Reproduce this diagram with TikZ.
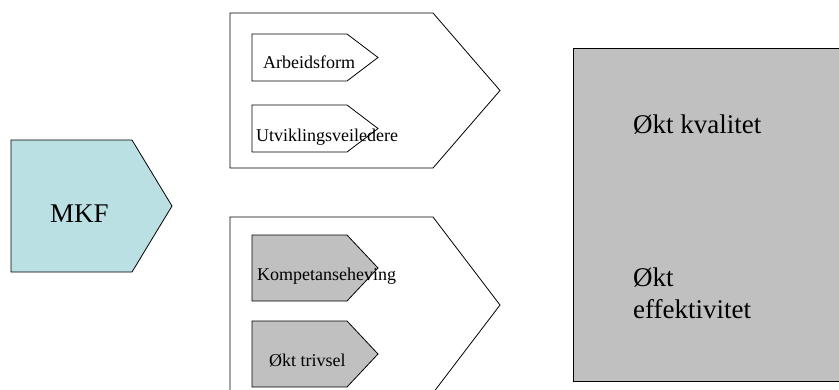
\documentclass[tikz,border=0pt]{standalone}
\usepackage{fontspec}
\setmainfont{Liberation Serif}
\usetikzlibrary{positioning}
\definecolor{mkfblue}{HTML}{BBE0E3}
\definecolor{boxgray}{HTML}{C0C0C0}
\tikzset{
    chev/.style={draw=black, line width=0.8pt, line join=miter},
    bigtxt/.style={inner sep=0pt, anchor=base west, font=\fontsize{27}{32}\selectfont},
    smalltxt/.style={inner sep=0pt, anchor=base west, font=\fontsize{18}{21}\selectfont}
}

\begin{document}
\begin{tikzpicture}[x=1pt, y=-1pt]
    \useasboundingbox (0,0) rectangle (839,389);
    % result box
    \draw[chev, fill=boxgray] (573,48) rectangle (842,381);
    % MKF
    \draw[chev, fill=mkfblue] (11,140) -- (132,140) -- (172,206) -- (132,272) -- (11,272) -- cycle;
    % the two large chevrons
    \draw[chev, fill=white] (230,13) -- (433,13) -- (500,90.5) -- (433,168) -- (230,168) -- cycle;
    \draw[chev, fill=white] (230,217) -- (433,217) -- (500,305) -- (433,393) -- (230,393) -- cycle;
    % small chevrons
    \draw[chev, fill=white] (252,34) -- (347,34) -- (378,57.5) -- (347,81) -- (252,81) -- cycle;
    \draw[chev, fill=white] (252,105) -- (347,105) -- (378,128.5) -- (347,152) -- (252,152) -- cycle;
    \draw[chev, fill=boxgray] (252,235) -- (347,235) -- (378,268) -- (347,301) -- (252,301) -- cycle;
    \draw[chev, fill=boxgray] (252,321) -- (347,321) -- (378,354) -- (347,387) -- (252,387) -- cycle;
    % texts
    \node[bigtxt] (mkf) at (50,222) {MKF};
    \node[smalltxt] (arb) at (263,68) {Arbeidsform};
    \node[smalltxt] (utv) at (256,141) {Utviklingsveiledere};
    \node[smalltxt] (komp) at (257,280) {Kompetanseheving};
    \node[smalltxt] (triv) at (269,366) {Økt trivsel};
    \node[bigtxt] (kval) at (633,133) {Økt kvalitet};
    \node[bigtxt] (eff1) at (633,286) {Økt};
    \node[bigtxt] (eff2) at (633,318) {effektivitet};
\end{tikzpicture}
\end{document}
